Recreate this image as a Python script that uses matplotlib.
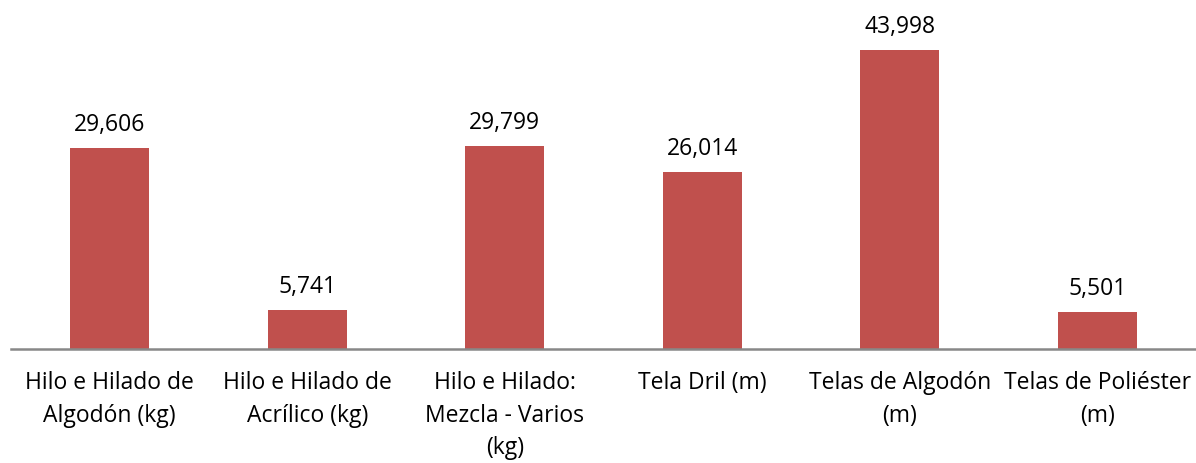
import matplotlib.pyplot as plt
import numpy as np

plt.rcParams['font.family'] = ['Open Sans', 'DejaVu Sans']

categorias = ["Hilo e Hilado de\nAlgodón (kg)", "Hilo e Hilado de\nAcrílico (kg)",
              "Hilo e Hilado:\nMezcla - Varios\n(kg)", "Tela Dril (m)",
              "Telas de Algodón\n(m)", "Telas de Poliéster\n(m)"]
valores = [29606, 5741, 29799, 26014, 43998, 5501]

fig = plt.figure(figsize=(11.96, 4.63), dpi=100)
ax = fig.add_axes([11/1196, 114/463, 1185/1196, 349/463])

x = np.arange(len(valores))
ax.bar(x, valores, width=0.40, color='#C0504D')
ax.set_xlim(-0.5, len(valores) - 0.5)
ax.set_ylim(0, 43998 * 349 / 299)

for xi, v in zip(x, valores):
    ax.annotate(f"{v:,}", (xi, v), xytext=(0, 8), textcoords='offset points',
                ha='center', va='bottom', fontsize=16.5)

ax.set_xticks(x)
ax.set_xticklabels(categorias, fontsize=16.5, linespacing=1.46)
ax.tick_params(axis='x', length=0, pad=16)
ax.set_yticks([])
for s in ['top', 'right', 'left']:
    ax.spines[s].set_visible(False)
ax.spines['bottom'].set_color('#888888')
ax.spines['bottom'].set_linewidth(1.8)

plt.savefig("out.png", dpi=100)
